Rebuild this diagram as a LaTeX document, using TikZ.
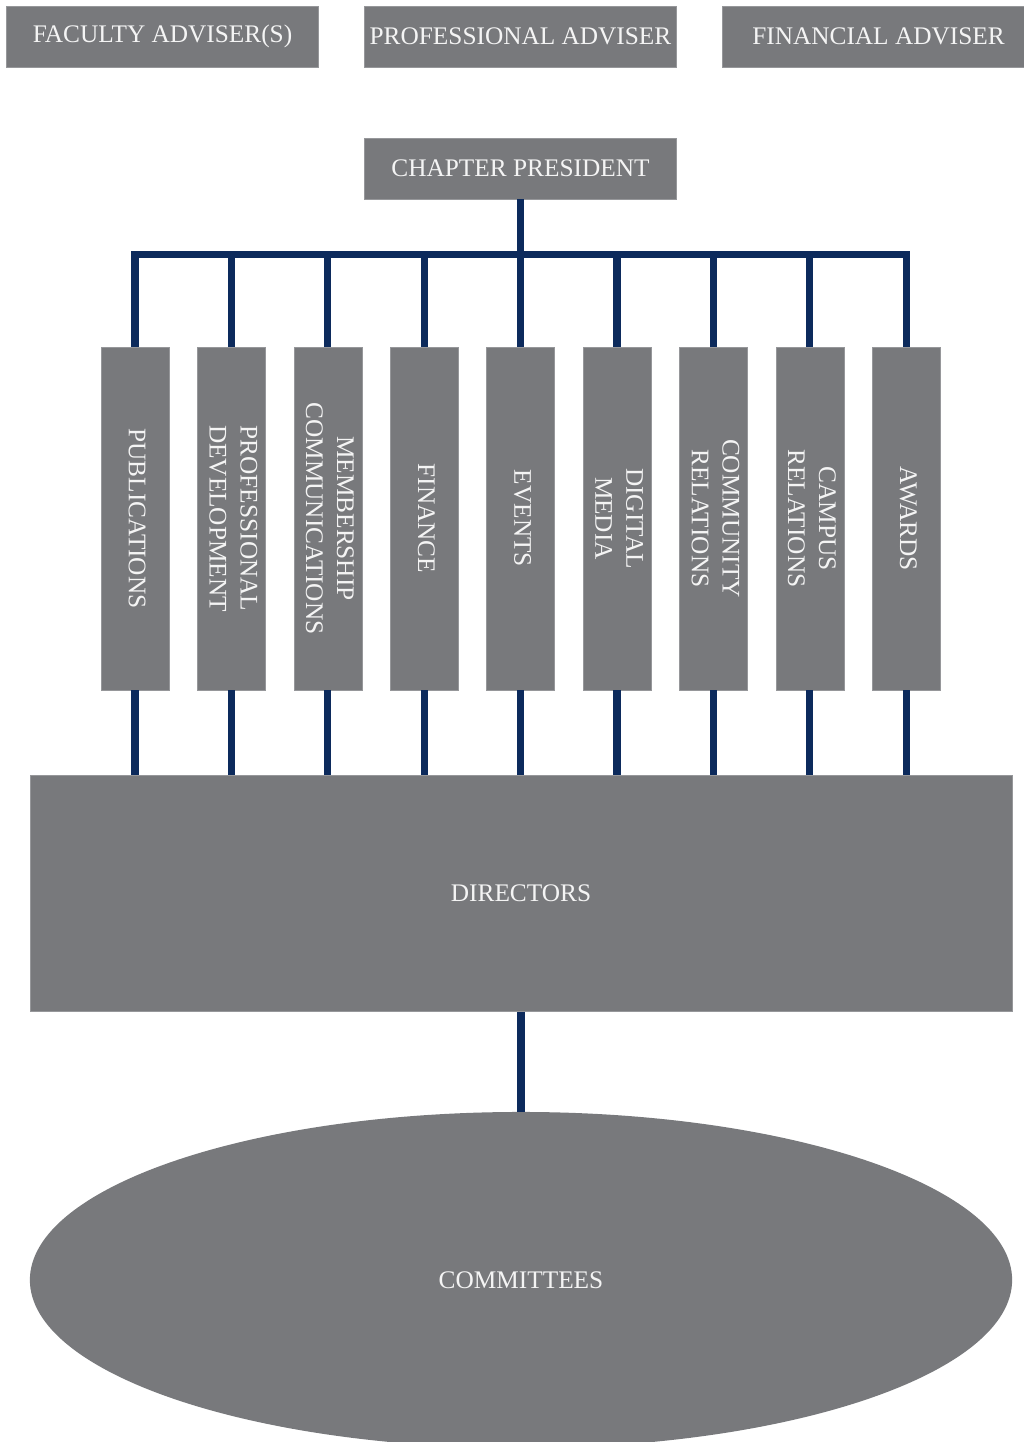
\documentclass[tikz,border=0pt]{standalone}
\usepackage{fontspec}
\setmainfont{Liberation Serif}
\usepackage{xcolor}
\usepackage{graphicx}
\usepackage{tikz}
\usetikzlibrary{positioning,shapes.geometric,calc}

\definecolor{boxgray}{RGB}{120,121,124}
\definecolor{boxedge}{RGB}{150,151,154}
\definecolor{boxtext}{RGB}{244,244,244}
\definecolor{linknavy}{RGB}{12,42,92}

\newcommand{\vtext}[1]{\rotatebox{-90}{\begin{tabular}{@{}c@{}}#1\end{tabular}}}

\begin{document}
\begin{tikzpicture}[
    x=0.025cm, y=-0.025cm,
    box/.style = {
        rectangle,
        fill=boxgray,
        draw=boxedge,
        line width=0.4pt,
        text=boxtext,
        align=center,
        inner sep=0pt,
        font=\fontsize{18}{22}\selectfont
    },
    topbox/.style  = {box, minimum width=7.8cm, minimum height=1.525cm},
    deptbox/.style = {box, minimum width=1.7cm, minimum height=8.575cm},
    bigbox/.style  = {box, minimum width=24.55cm, minimum height=5.9cm},
    oval/.style    = {box, ellipse, draw=none, minimum width=24.55cm, minimum height=8.4cm},
    link/.style    = {draw=linknavy, line width=5pt, line join=miter}
]

% Page frame
\useasboundingbox (0,0) rectangle (1024,1442);
\clip (0,0) rectangle (1024,1442);

% Define spacing
\def\colx{135}
\def\colgap{96.4}
\def\coly{518.5}

% Row 1: advisers
\node[topbox] (faculty)   at (162.5,36.5) {FACULTY ADVISER(S)};
\node[topbox] (profadv)   at (520.5,36.5) {PROFESSIONAL ADVISER};
\node[topbox] (financial) at (878.5,36.5) {FINANCIAL ADVISER};

% Row 2: president
\node[topbox] (president) at (520.5,168.5) {CHAPTER PRESIDENT};
\coordinate (bus) at ($(president.south)+(0,55)$);

% Row 3: departments
\node[deptbox] (publications) at (\colx,\coly)              {\vtext{PUBLICATIONS}};
\node[deptbox] (profdev)      at ({\colx+\colgap},\coly)    {\vtext{PROFESSIONAL\\DEVELOPMENT}};
\node[deptbox] (membership)   at ({\colx+2*\colgap},\coly)  {\vtext{MEMBERSHIP\\COMMUNICATIONS}};
\node[deptbox] (finance)      at ({\colx+3*\colgap},\coly)  {\vtext{FINANCE}};
\node[deptbox] (events)       at ({\colx+4*\colgap},\coly)  {\vtext{EVENTS}};
\node[deptbox] (digital)      at ({\colx+5*\colgap},\coly)  {\vtext{DIGITAL\\MEDIA}};
\node[deptbox] (community)    at ({\colx+6*\colgap},\coly)  {\vtext{COMMUNITY\\RELATIONS}};
\node[deptbox] (campus)       at ({\colx+7*\colgap},\coly)  {\vtext{CAMPUS\\RELATIONS}};
\node[deptbox] (awards)       at ({\colx+8*\colgap},\coly)  {\vtext{AWARDS}};

% Row 4: directors and committees
\node[bigbox] (directors)  at (521,893.5) {DIRECTORS};
\node[oval]   (committees) at (521,1280)  {COMMITTEES};

% Links - president to departments
\draw[link] (president.south) -- (bus);
\draw[link] (publications.north) |- (bus) -| (awards.north);
\draw[link] (profdev.north)    -- (profdev.north |- bus);
\draw[link] (membership.north) -- (membership.north |- bus);
\draw[link] (finance.north)    -- (finance.north |- bus);
\draw[link] (events.north)     -- (events.north |- bus);
\draw[link] (digital.north)    -- (digital.north |- bus);
\draw[link] (community.north)  -- (community.north |- bus);
\draw[link] (campus.north)     -- (campus.north |- bus);

% Links - departments to directors
\draw[link] (publications.south) -- (publications.south |- directors.north);
\draw[link] (profdev.south)      -- (profdev.south |- directors.north);
\draw[link] (membership.south)   -- (membership.south |- directors.north);
\draw[link] (finance.south)      -- (finance.south |- directors.north);
\draw[link] (events.south)       -- (events.south |- directors.north);
\draw[link] (digital.south)      -- (digital.south |- directors.north);
\draw[link] (community.south)    -- (community.south |- directors.north);
\draw[link] (campus.south)       -- (campus.south |- directors.north);
\draw[link] (awards.south)       -- (awards.south |- directors.north);

% Link - directors to committees
\draw[link] (directors.south) -- (committees.north);

\end{tikzpicture}
\end{document}
